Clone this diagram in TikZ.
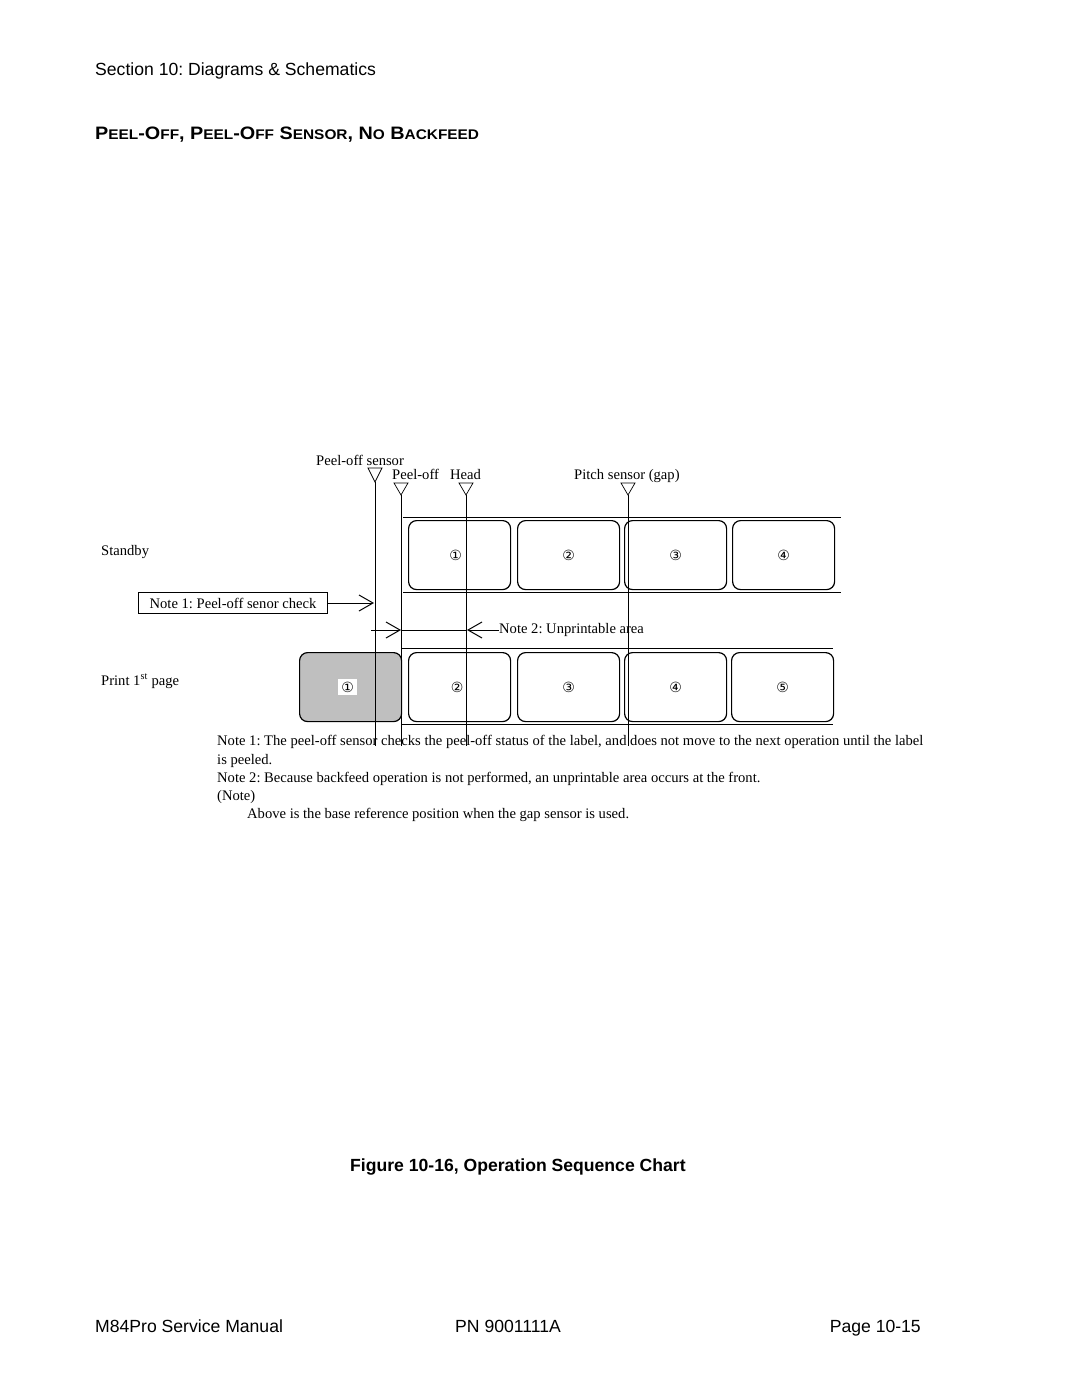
\documentclass[tikz,border=0pt]{standalone}
\usepackage{fontspec}
\usepackage{graphicx}
\setmainfont{Liberation Serif}
\newfontfamily\arialf{Liberation Sans}
\newfontfamily\dejavuf{DejaVu Sans}
\usetikzlibrary{arrows.meta}
\newcommand\hdsc[1]{{\fontsize{14}{14}\selectfont #1}}
\frenchspacing
\begin{document}
\begin{tikzpicture}[x=1pt,y=-1pt,
  sertext/.style={font=\fontsize{14.6}{18}\selectfont, inner sep=0pt},
  sanstext/.style={font=\arialf\fontsize{17.6}{20}\selectfont, inner sep=0pt},
  labelbox/.style={draw, line width=1.2pt, rounded corners=8pt, minimum width=102pt, minimum height=69pt, anchor=north west, inner sep=0pt, font=\dejavuf\fontsize{14}{14}\selectfont},
  tapeline/.style={line width=1pt},
  vline/.style={line width=0.7pt},
  sensor/.style={line width=0.7pt},
  barb/.style={line width=1pt, -{Straight Barb[length=14pt,width=16pt]}},
]
\useasboundingbox (0,0) rectangle (1080,1397);
\fill[white] (0,0) rectangle (1080,1397);

% header
\node[sanstext, anchor=base west] (hdr) at (95,75) {Section 10: Diagrams \& Schematics};
\node[sanstext, anchor=base west, font=\arialf\bfseries] (ttl) at (95,139)
  {\scalebox{1.1}[1]{\fontsize{18}{18}\selectfont P\hdsc{EEL}-O\hdsc{FF}, P\hdsc{EEL}-O\hdsc{FF} S\hdsc{ENSOR}, N\hdsc{O} B\hdsc{ACKFEED}}};

% sensor labels
\node[sertext, anchor=base west] (lps) at (316,465) {Peel-off sensor};
\node[sertext, anchor=base west] (lpo) at (392,479) {Peel-off};
\node[sertext, anchor=base west] (lhd) at (450,479) {Head};
\node[sertext, anchor=base west] (lpt) at (574,479) {Pitch sensor (gap)};

% sensor markers
\coordinate (sps) at (375,482);
\coordinate (spo) at (401,495);
\coordinate (shd) at (466,495);
\coordinate (spt) at (628,495);
\draw[sensor] (368,468) -- (382,468) -- (sps) -- cycle;
\draw[sensor] (394,483) -- (408,483) -- (spo) -- cycle;
\draw[sensor] (459,483) -- (473,483) -- (shd) -- cycle;
\draw[sensor] (621,483) -- (635,483) -- (spt) -- cycle;

\coordinate (eps) at (375,746);
\coordinate (epo) at (401,746);
\coordinate (ehd) at (466,746);
\coordinate (ept) at (628,746);

% top tape
\draw[tapeline] (403,517) coordinate (tt1) -- (841,517) coordinate (tt2);
\draw[tapeline] (403,592) coordinate (tb1) -- (841,592) coordinate (tb2);
\node[labelbox] (t1) at (408,520) {\hspace*{-8pt}①};
\node[labelbox] (t2) at (517,520) {②};
\node[labelbox] (t3) at (624,520) {③};
\node[labelbox] (t4) at (732,520) {④};

% bottom tape
\draw[tapeline] (401,648) coordinate (bt1) -- (833,648) coordinate (bt2);
\draw[tapeline] (401,724) coordinate (bb1) -- (833,724) coordinate (bb2);
\node[labelbox, fill=gray!50] (b1) at (299,652) {};
\node[fill=white, inner sep=3pt, font=\dejavuf\fontsize{14}{14}\selectfont] (b1n) at ([xshift=-3pt]b1.center) {①};
\node[labelbox] (b2) at (408,652) {\hspace*{-5pt}②};
\node[labelbox] (b3) at (517,652) {③};
\node[labelbox] (b4) at (624,652) {④};
\node[labelbox] (b5) at (731,652) {⑤};

% vertical lines
\draw[vline] (sps) -- (eps);
\draw[vline] (spo) -- (epo);
\draw[vline] (shd) -- (ehd);
\draw[vline] (spt) -- (ept);

% row labels
\node[sertext, anchor=base west] (stb) at (101,555) {Standby};
\node[sertext, anchor=base west] (prt) at (101,685) {Print 1\textsuperscript{st} page};

% note 1
\node[draw, line width=1pt, sertext, minimum width=189pt, minimum height=21pt, anchor=west] (n1) at (138,603) {Note 1: Peel-off senor check};
\coordinate (n1t) at (374,603);
\draw[barb] (n1.east) -- (n1t);

% note 2
\coordinate (a1) at (371,630);
\coordinate (a2) at (401,630);
\coordinate (a3) at (467,630);
\node[sertext, anchor=west] (n2) at (499,630) {Note 2: Unprintable area};
\draw[barb] (a1) -- (a2);
\draw[line width=1pt] (a2) -- (a3);
\draw[barb] (n2.west) -- (a3);

% notes text
\node[sertext, anchor=base west] (m1) at (217,745.5) {Note 1: The peel-off sensor checks the peel-off status of the label, and does not move to the next operation until the label};
\node[sertext, anchor=base west] (m2) at (217,764.5) {is peeled.};
\node[sertext, anchor=base west] (m3) at (217,782.5) {Note 2: Because backfeed operation is not performed, an unprintable area occurs at the front.};
\node[sertext, anchor=base west] (m4) at (217,800.5) {(Note)};
\node[sertext, anchor=base west] (m5) at (247,818.5) {Above is the base reference position when the gap sensor is used.};

% caption
\node[sanstext, font=\arialf\bfseries\fontsize{17.6}{20}\selectfont, anchor=base west] (cap) at (350,1171) {Figure 10-16, Operation Sequence Chart};

% footer
\node[sanstext, anchor=base west] (f1) at (95,1332) {M84Pro Service Manual};
\node[sanstext, anchor=base west] (f2) at (455,1332) {PN 9001111A};
\node[sanstext, anchor=base east] (f3) at (921,1332) {Page 10-15};
\end{tikzpicture}
\end{document}
